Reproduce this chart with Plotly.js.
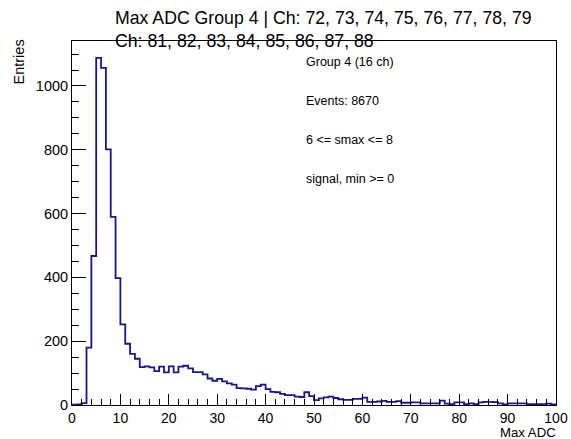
<!DOCTYPE html>
<html>
<head>
<meta charset="utf-8">
<script src="https://cdn.plot.ly/plotly-3.0.1.min.js"></script>
<style>
html,body{margin:0;padding:0;background:#fff;}
#chart{width:571px;height:439px;}
</style>
</head>
<body>
<div id="chart"></div>
<script>
// Bin contents (bins of width 1 from 0 to 100)
const counts = [
  1, 2, 6, 180, 467, 1088, 1057, 801, 590, 398,
  253, 192, 160, 145, 119, 121, 118, 106, 120, 102,
  121, 102, 120, 123, 115, 103, 103, 96, 83, 76,
  82, 74, 68, 64, 53, 52, 51, 48, 59, 64,
  50, 41, 40, 35, 31, 31, 26, 25, 40, 28,
  15, 21, 24, 26, 22, 18, 16, 16, 19, 19,
  23, 10, 10, 11, 13, 10, 10, 12, 7, 7,
  8, 8, 5, 5, 5, 5, 14, 4, 3, 8,
  8, 3, 5, 3, 8, 10, 10, 9, 5, 2,
  5, 5, 5, 5, 3, 3, 3, 3, 4, 2
];
const xMin = 0, xMax = 100;
const titleLines = ["Max ADC Group 4 | Ch: 72, 73, 74, 75, 76, 77, 78, 79", "Ch: 81, 82, 83, 84, 85, 86, 87, 88"];
const infoLines = ["Group 4 (16 ch)", "Events: 8670", "6 <= smax <= 8", "signal, min >= 0"];
const xLabel = "Max ADC";
const yLabel = "Entries";

const W = 571, H = 439;
const mL = 72, mR = 15, mT = 41, mB = 34;
const binWidth = (xMax - xMin) / counts.length;
const xs = counts.map((_, i) => xMin + i * binWidth).concat([xMax]);
const ys = counts.concat([counts[counts.length - 1]]);

const font = "Liberation Sans, Arial, Helvetica, sans-serif";
const pyPaper = (py) => 1 - (py - mT) / (H - mT - mB);
const pxPaper = (px) => (px - mL) / (W - mL - mR);

const annotations = [];
const titleY = [18, 41];
titleLines.forEach((t, i) => {
  annotations.push({
    text: t, xref: 'paper', yref: 'paper', x: pxPaper(113), y: pyPaper(titleY[i]),
    xanchor: 'left', yanchor: 'middle', showarrow: false,
    font: {family: font, size: 17.7, color: '#000'}
  });
});
const infoY = [62, 101, 140, 179];
infoLines.forEach((t, i) => {
  annotations.push({
    text: t, xref: 'paper', yref: 'paper', x: pxPaper(304), y: pyPaper(infoY[i]),
    xanchor: 'left', yanchor: 'middle', showarrow: false,
    font: {family: font, size: 12.5, color: '#000'}
  });
});
annotations.push({
  text: xLabel, xref: 'paper', yref: 'paper', x: pxPaper(557), y: pyPaper(432.4),
  xanchor: 'right', yanchor: 'middle', showarrow: false, borderpad: 0,
  font: {family: font, size: 13.2, color: '#000'}
});
annotations.push({
  text: yLabel, xref: 'paper', yref: 'paper', x: pxPaper(18), y: pyPaper(38),
  xanchor: 'center', yanchor: 'top', textangle: -90, showarrow: false,
  font: {family: font, size: 14.5, color: '#000'}
});

const trace = {
  x: xs, y: ys, type: 'scatter', mode: 'lines',
  line: {shape: 'hv', color: '#16168e', width: 1.8},
  hoverinfo: 'skip'
};

const layout = {
  width: W, height: H,
  margin: {l: mL, r: mR, t: mT, b: mB, pad: 0},
  paper_bgcolor: '#fff', plot_bgcolor: '#fff',
  showlegend: false,
  xaxis: {
    range: [xMin, xMax], showgrid: false, zeroline: false,
    showline: true, linecolor: '#000', linewidth: 1, mirror: true,
    ticks: 'inside', ticklen: 11, tickcolor: '#000', tickwidth: 1,
    dtick: 10, tick0: 0,
    minor: {dtick: 2, tick0: 0, ticks: 'inside', ticklen: 6, tickcolor: '#000', showgrid: false},
    tickfont: {family: font, size: 14, color: '#000'}
  },
  yaxis: {
    range: [0, 1141], showgrid: false, zeroline: false,
    showline: true, linecolor: '#000', linewidth: 1, mirror: true,
    ticks: 'inside', ticklen: 14, tickcolor: '#000', tickwidth: 1,
    dtick: 200, tick0: 0,
    minor: {dtick: 50, tick0: 0, ticks: 'inside', ticklen: 7, tickcolor: '#000', showgrid: false},
    tickfont: {family: font, size: 14.5, color: '#000'}
  },
  annotations: annotations
};

Plotly.newPlot('chart', [trace], layout, {displayModeBar: false, staticPlot: true});
</script>
</body>
</html>
